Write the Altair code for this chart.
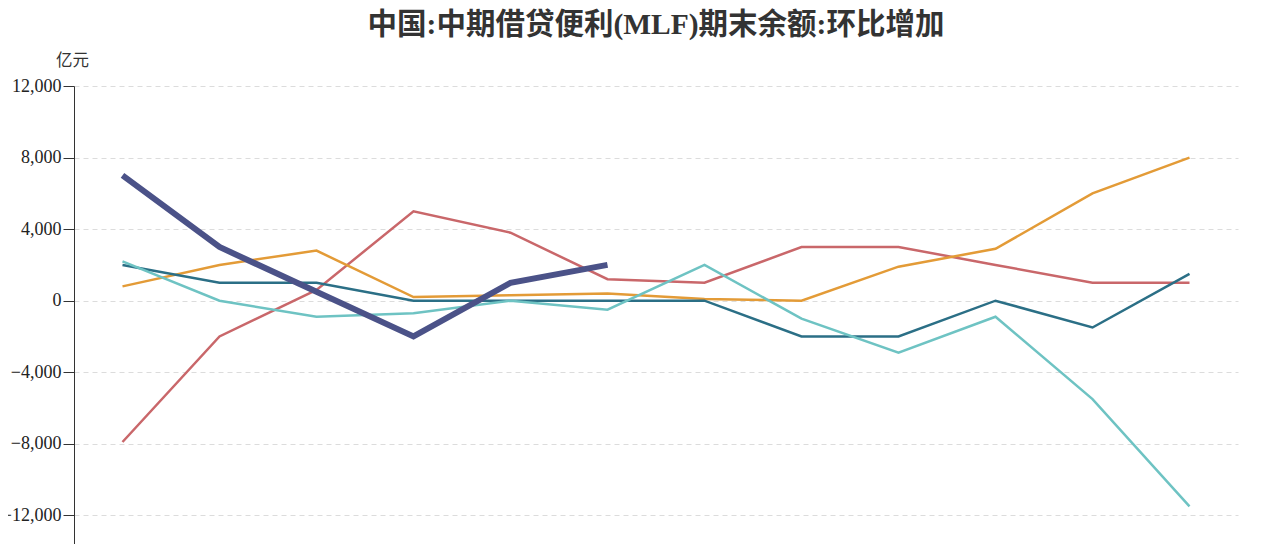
import altair as alt
import pandas as pd

months = ["1月", "2月", "3月", "4月", "5月", "6月", "7月", "8月", "9月", "10月", "11月", "12月"]
series_names = ["2019年", "2020年", "2021年", "2022年", "2023年"]
s_red = [-7900, -2000, 600, 5000, 3800, 1200, 1000, 3000, 3000, 2000, 1000, 1000]
s_orange = [800, 2000, 2800, 200, 300, 400, 100, 0, 1900, 2900, 6000, 8000]
s_darkteal = [2000, 1000, 1000, 0, 0, 0, 0, -2000, -2000, 0, -1500, 1500]
s_lightteal = [2200, 0, -900, -700, 0, -500, 2000, -1000, -2900, -900, -5500, -11500]
s_thick = [7000, 3000, 500, -2000, 1000, 2000]
colors = ["#c9676a", "#e39b37", "#2b6f86", "#6ec3c3", "#4b5288"]

rows = []
for name, vals in zip(series_names, [s_red, s_orange, s_darkteal, s_lightteal, s_thick]):
    for m, v in zip(months, vals):
        rows.append({"月份": m, "系列": name, "值": v})
df = pd.DataFrame(rows)

x_enc = alt.X("月份:N", sort=months,
              scale=alt.Scale(type="point", padding=0.5),
              axis=alt.Axis(title=None, labels=False, ticks=False, domain=False))
y_enc = alt.Y("值:Q",
              scale=alt.Scale(domain=[-13600, 12000], nice=False, zero=False),
              axis=alt.Axis(values=[-12000, -8000, -4000, 0, 4000, 8000, 12000],
                            format=",.0f", title="亿元", titleAngle=0,
                            titleX=-2, titleY=-18, titleAlign="center",
                            titleBaseline="bottom", titleFontSize=16.5,
                            titleFontWeight="normal", titleColor="#333",
                            titleFont="Noto Sans CJK SC",
                            labelFont="Liberation Serif", labelFontSize=18,
                            labelColor="#222", labelPadding=2,
                            tickSize=11, tickColor="#333", domainColor="#333",
                            grid=True, gridDash=[5, 4], gridColor="#dcdcdc"))
color_enc = alt.Color("系列:N", scale=alt.Scale(domain=series_names, range=colors), legend=None)

thin = alt.Chart(df).transform_filter(alt.datum["系列"] != "2023年").mark_line(strokeWidth=2.5).encode(
    x=x_enc, y=y_enc, color=color_enc, detail="系列:N")
thick = alt.Chart(df).transform_filter(alt.datum["系列"] == "2023年").mark_line(strokeWidth=6).encode(
    x=x_enc, y=y_enc, color=color_enc)

chart = alt.layer(thin, thick).properties(
    width=1164, height=458,
    background="white",
    title=alt.Title("中国:中期借贷便利(MLF)期末余额:环比增加",
                    font="Liberation Serif, Noto Sans CJK SC", fontSize=29.5,
                    fontWeight="bold", color="#333", anchor="middle", offset=12),
    autosize=alt.AutoSizeParams(type="none"),
    padding={"left": 66, "top": 78, "right": 34, "bottom": 0},
).configure_view(stroke=None)

chart.save("out.html", embed_options={"renderer": "svg", "actions": False})
